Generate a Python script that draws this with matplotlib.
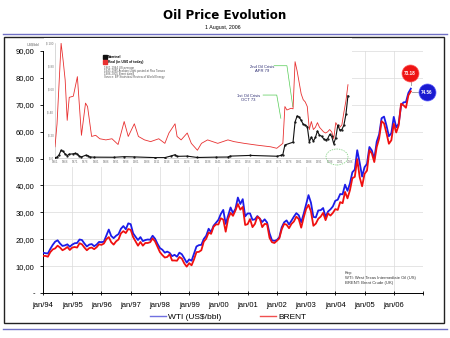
import matplotlib
matplotlib.use('Agg')
import matplotlib.pyplot as plt
import numpy as np
from matplotlib.patches import Rectangle, Ellipse
from matplotlib.lines import Line2D
from matplotlib.ticker import FuncFormatter

# ---------------- data ----------------
# monthly prices, Jan 1994 .. Aug 2006 (US$/bbl)
wti = [15.0, 14.8, 14.7, 16.4, 17.9, 19.1, 19.6, 18.4, 17.5, 17.7, 18.1, 17.2,
       18.0, 18.5, 18.6, 19.9, 19.7, 18.4, 17.3, 18.0, 18.2, 17.4, 18.0, 19.0,
       18.9, 19.1, 21.4, 23.6, 21.2, 20.4, 21.3, 21.9, 23.9, 24.9, 23.7, 25.9,
       25.6, 22.2, 20.9, 19.7, 20.8, 19.3, 19.7, 19.9, 19.8, 21.3, 20.2, 18.3,
       16.7, 16.1, 15.0, 15.4, 14.9, 13.7, 14.2, 13.5, 15.0, 14.4, 12.9, 11.3,
       12.5, 12.0, 14.7, 17.3, 17.8, 17.9, 20.1, 21.3, 23.9, 22.6, 25.0, 26.1,
       27.2, 29.4, 30.9, 25.7, 28.8, 31.8, 29.7, 31.3, 35.5, 33.1, 34.9, 28.5,
       29.6, 29.6, 27.2, 27.4, 28.6, 27.6, 26.4, 27.4, 26.2, 22.2, 19.6, 19.4,
       19.7, 20.7, 24.4, 26.3, 27.0, 25.5, 26.9, 28.4, 29.7, 28.9, 26.3, 29.4,
       32.9, 36.4, 33.6, 28.3, 28.1, 30.7, 30.8, 31.6, 28.3, 30.3, 31.1, 32.2,
       34.3, 34.7, 36.8, 36.7, 40.3, 38.0, 40.7, 44.9, 45.9, 53.1, 48.5, 43.3,
       46.8, 48.0, 54.3, 53.0, 49.8, 56.3, 59.0, 65.0, 65.6, 62.3, 58.3, 59.4,
       65.5, 61.6, 62.9, 69.7, 70.9, 71.0, 74.4, 76.0]
brent = [13.8, 13.8, 13.5, 15.2, 16.2, 16.6, 17.6, 16.9, 15.9, 16.4, 17.1, 16.0,
         16.9, 17.1, 16.9, 18.5, 18.1, 16.9, 15.9, 16.7, 16.9, 16.3, 17.0, 18.1,
         17.9, 18.4, 20.0, 20.8, 18.9, 18.0, 19.2, 19.9, 22.2, 23.0, 22.3, 23.8,
         23.5, 20.8, 19.2, 17.6, 19.0, 17.6, 18.6, 18.6, 18.9, 20.3, 19.2, 17.2,
         15.2, 14.1, 13.2, 13.4, 14.4, 12.1, 12.1, 12.0, 13.4, 12.8, 11.0, 9.8,
         11.1, 10.3, 12.5, 15.2, 15.3, 15.9, 19.1, 20.2, 22.5, 22.0, 24.6, 25.5,
         25.5, 27.8, 27.3, 22.8, 27.6, 29.8, 28.7, 30.7, 33.1, 31.0, 32.0, 25.3,
         25.6, 27.5, 24.5, 25.7, 28.4, 27.7, 24.5, 25.7, 25.6, 20.5, 18.9, 18.6,
         19.4, 20.3, 23.7, 25.7, 25.4, 24.1, 25.7, 26.6, 28.4, 27.5, 24.3, 28.0,
         31.2, 32.8, 30.3, 25.0, 25.8, 27.6, 28.4, 29.8, 27.1, 29.6, 28.8, 29.8,
         31.2, 30.9, 33.8, 33.4, 37.6, 35.2, 38.2, 42.7, 43.2, 49.8, 43.1, 39.7,
         44.3, 45.5, 53.1, 51.9, 48.7, 54.3, 57.5, 63.9, 63.1, 59.5, 55.5, 56.8,
         62.9, 59.7, 62.3, 70.4, 69.8, 68.9, 73.5, 75.0]
start_year = 1994
x_tick_labels = ['jan/94', 'jan/95', 'jan/96', 'jan/97', 'jan/98', 'jan/99', 'jan/00',
                 'jan/01', 'jan/02', 'jan/03', 'jan/04', 'jan/05', 'jan/06', '']
y_ticks = [0, 10, 20, 30, 40, 50, 60, 70, 80, 90]
last_brent_label = '73.18'
last_wti_label = '74.56'

# historical inset (US$/bbl)
real_years = [1861, 1862, 1864, 1865, 1866, 1867, 1868, 1870, 1872, 1874, 1876, 1877,
              1879, 1881, 1883, 1886, 1889, 1892, 1895, 1897, 1900, 1902, 1905, 1908,
              1912, 1915, 1917, 1920, 1921, 1923, 1926, 1928, 1931, 1933, 1936, 1941,
              1946, 1949, 1954, 1960, 1967, 1970, 1973, 1974, 1975, 1977, 1978, 1979,
              1980, 1981, 1982, 1983, 1984, 1985, 1986, 1987, 1988, 1989, 1990, 1991,
              1992, 1993, 1994, 1995, 1996, 1997, 1998, 1999, 2000, 2001, 2002, 2003,
              2004, 2005]
real_vals = [10, 30, 100, 85, 68, 33, 53, 54, 71, 20, 48, 45,
             19, 20, 17, 16, 17, 12, 32, 19, 30, 19, 16, 14.5,
             17, 13, 22, 30, 19, 16, 22, 13, 7, 13, 16, 13,
             16, 14.5, 13, 11.5, 10, 8.7, 13, 45, 42, 43.5, 43, 84,
             76, 66, 56, 51, 49, 45, 25, 32, 25, 27, 31, 27,
             25, 23, 22, 23, 25, 23, 17, 31, 28, 27, 29, 40,
             50, 64]
nom_years = [1861, 1862, 1863, 1864, 1865, 1866, 1867, 1868, 1870, 1871, 1872, 1873,
             1874, 1876, 1877, 1878, 1880, 1890, 1895, 1900, 1910, 1915, 1918, 1920,
             1921, 1926, 1931, 1940, 1946, 1947, 1957, 1970, 1972, 1973, 1974, 1978,
             1979, 1980, 1981, 1982, 1983, 1984, 1985, 1986, 1987, 1988, 1989, 1990,
             1991, 1992, 1993, 1994, 1995, 1996, 1997, 1998, 1999, 2000, 2001, 2002,
             2003, 2004, 2005]
nom_vals = [0.5, 1, 3, 7, 6, 3.7, 2.4, 3.6, 3.9, 4.3, 3.6, 1.8,
            1.2, 2.6, 2.4, 1.2, 1, 0.9, 1.4, 1.2, 0.6, 0.6, 2, 3.1,
            1.7, 1.9, 0.7, 1, 1.1, 1.9, 2.5, 1.8, 2.5, 3.3, 11.6, 14,
            31.6, 36.8, 35.9, 33, 29.6, 28.8, 27.6, 14.4, 18.4, 14.9, 18.2, 23.7,
            20, 19.3, 17, 15.8, 17, 20.7, 19.1, 12.7, 17.9, 28.7, 24.5, 25,
            28.8, 38.3, 54.5]
inset_year_ticks = list(range(1861, 2007, 5))
inset_val_ticks = [0, 20, 40, 60, 80, 100]

# ---------------- figure ----------------
W, H = 450, 338
def fx(px): return px / W
def fy(py): return 1 - py / H

fig = plt.figure(figsize=(4.5, 3.38), dpi=100)
fig.patch.set_facecolor('white')
base_font = ['Liberation Sans', 'DejaVu Sans']

# titles
fig.text(fx(225), fy(15.7), 'Oil Price Evolution', ha='center', va='center',
         fontsize=8.6, weight='bold', family='DejaVu Sans')
fig.text(fx(223), fy(28), '1 August, 2006', ha='center', va='center',
         fontsize=3.8, family=base_font)

# decorative blue rules and frame
for yy in (33.7, 329):
    fig.add_artist(Line2D([fx(3), fx(447)], [fy(yy), fy(yy)], color='#7070c4', lw=1.0,
                          transform=fig.transFigure))
fig.add_artist(Rectangle((fx(4), fy(323)), fx(444) - fx(4), fy(37) - fy(323), fill=False,
                         edgecolor='#222222', lw=1.0, transform=fig.transFigure))

# main axes
ax = fig.add_axes([fx(43), fy(293), (423 - 43) / W, (293 - 51) / H])
t = start_year + np.arange(len(wti)) / 12.0
ax.plot(t, wti, color='#1c1ce8', lw=1.3, zorder=3)
ax.plot(t, brent, color='#f01010', lw=1.3, zorder=4)
ax.set_xlim(1994, 2007)
ax.set_ylim(0, 90)
ax.set_xticks(range(1994, 2008))
ax.set_xticklabels(x_tick_labels)
ax.set_yticks(y_ticks)
ax.yaxis.set_major_formatter(FuncFormatter(
    lambda v, p: '-' if v == 0 else ('%.2f' % v).replace('.', ',')))
for lab in ax.get_xticklabels() + ax.get_yticklabels():
    lab.set_family(base_font)
ax.tick_params(axis='x', direction='inout', length=3, width=0.6, pad=5, labelsize=5.5)
ax.tick_params(axis='y', direction='out', length=2.5, width=0.6, pad=3.5, labelsize=5.5)
ax.spines['top'].set_visible(False)
ax.spines['right'].set_visible(False)
ax.spines['left'].set_linewidth(0.7)
ax.spines['bottom'].set_linewidth(0.7)
ax.grid(True, color='#dadada', lw=0.5)
ax.set_axisbelow(True)

# end labels
ax.plot([2006.58, 2006.58], [77.5, 79.5], color='#999999', lw=0.6, clip_on=False, zorder=5)
ax.plot([2006.62, 2007.0], [74.7, 74.7], color='#999999', lw=0.6, clip_on=False, zorder=5)
ax.scatter([2006.56], [81.8], s=150, color='#ee1414', edgecolors='#ff6060', lw=0.5,
           clip_on=False, zorder=6)
ax.scatter([2007.14], [74.7], s=150, color='#1a1ad0', edgecolors='#6060ff', lw=0.5,
           clip_on=False, zorder=6)
ax.text(2006.56, 81.8, last_brent_label, color='white', fontsize=3.3, weight='bold',
        ha='center', va='center', zorder=7, family=base_font)
ax.text(2007.14, 74.7, last_wti_label, color='white', fontsize=3.3, weight='bold',
        ha='center', va='center', zorder=7, family=base_font)

# key text
fig.text(fx(345), fy(272.7), 'Key:', fontsize=3, va='center', family=base_font, color='#333333')
fig.text(fx(345), fy(277.7), 'WTI: West Texas Intermediate Oil (US)', fontsize=3,
         va='center', family=base_font, color='#333333')
fig.text(fx(345), fy(282.7), 'BRENT: Brent Crude (UK)', fontsize=3, va='center',
         family=base_font, color='#333333')
fig.text(fx(33), fy(44), 'US$/bbl', fontsize=2.6, ha='center', va='center',
         family=base_font, color='#666666')

# legend
handles = [Line2D([], [], color='#7070e0', lw=1.0), Line2D([], [], color='#f05050', lw=1.0)]
fig.legend(handles, ['WTI (US$/bbl)', 'BRENT'], loc='center', bbox_to_anchor=(fx(228), fy(316.7)),
           ncol=2, frameon=False, prop={'family': base_font, 'size': 6},
           handlelength=1.9, handletextpad=0.3, columnspacing=4.6, borderpad=0)

# white backdrop for inset
fig.add_artist(Rectangle((fx(44), fy(167)), fx(352) - fx(44), fy(38) - fy(167),
                         facecolor='white', edgecolor='none', transform=fig.transFigure,
                         zorder=1))

# inset axes
ins = fig.add_axes([fx(55), fy(158.3), (350 - 55) / W, (158.3 - 43.3) / H])
ins.set_zorder(2)
ins.patch.set_alpha(0)
ins.plot(real_years, real_vals, color='#e83030', lw=0.6, zorder=3)
ins.plot(nom_years, nom_vals, color='#111111', lw=0.8, marker='.', ms=1.2, zorder=4)
ins.set_xlim(1861, 2006)
ins.set_ylim(0, 100)
ins.set_xticks(inset_year_ticks)
ins.set_xticklabels([str(y) for y in inset_year_ticks])
ins.set_yticks(inset_val_ticks)
ins.set_yticklabels(['$ %d' % v for v in inset_val_ticks])
ins.tick_params(axis='both', length=0, labelsize=2.2, labelcolor='#777777', pad=1.2)
for lab in ins.get_xticklabels() + ins.get_yticklabels():
    lab.set_family(base_font)
for s in ('top', 'right'):
    ins.spines[s].set_visible(False)
ins.spines['left'].set_color('#bbbbbb')
ins.spines['left'].set_linewidth(0.4)
ins.spines['bottom'].set_color('#bbbbbb')
ins.spines['bottom'].set_linewidth(0.4)

# crisis annotations
ann_color = '#2a2a70'
ins.plot([1968.7, 1975.0, 1977.9], [80.5, 80.5, 44.9], color='#55cc55', lw=0.5, clip_on=False)
ins.text(1962.6, 77.7, '2nd Oil Crisis\nAPR 79', fontsize=3, ha='center', va='center',
         color=ann_color, family=base_font, linespacing=1.1)
ins.plot([1963.3, 1970.0, 1972.0], [55, 55, 34.8], color='#55cc55', lw=0.5, clip_on=False)
ins.text(1956.0, 52.2, '1st Oil Crisis\nOCT 73', fontsize=3, ha='center', va='center',
         color=ann_color, family=base_font, linespacing=1.1)

# inset legend
leg_h = [Line2D([], [], color='#111111', marker='s', ls='none', ms=2.2),
         Line2D([], [], color='#e83030', marker='s', ls='none', ms=2.2)]
ins.legend(leg_h, ['Nominal', 'Real (in US$ of today)'], loc='upper left',
           bbox_to_anchor=(fx(102), fy(53.5)), bbox_transform=fig.transFigure,
           frameon=False, prop={'family': base_font, 'size': 2.4, 'weight': 'bold'},
           handlelength=0.8, handletextpad=0.4, borderpad=0, labelspacing=0.3)
notes = ['1861-1944 US average',
         '1945-1985 Arabian Light posted at Ras Tanura',
         '1986-2005 Brent dated',
         'Source: BP Statistical Review of World Energy']
for i, n in enumerate(notes):
    fig.text(fx(104), fy(68.0 + 3.0 * i), n, fontsize=2.1, va='center',
             family=base_font, color='#555555', zorder=3)

# green dashed ellipse
fig.add_artist(Ellipse((fx(337), fy(157)), 22 / W, 16 / H, fill=False, edgecolor='#77cc77',
                       ls=(0, (2, 1.5)), lw=0.5, transform=fig.transFigure, zorder=3))

fig.savefig('out.png', dpi=100)
